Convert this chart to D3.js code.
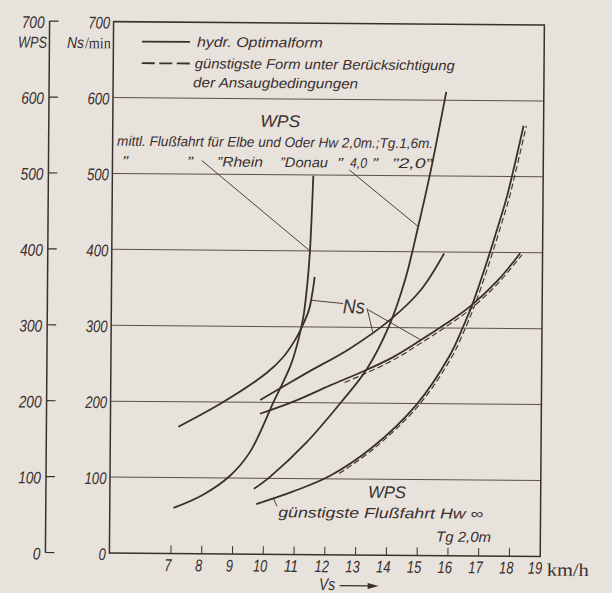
<!DOCTYPE html>
<html>
<head>
<meta charset="utf-8">
<script src="https://cdn.jsdelivr.net/npm/d3@7/dist/d3.min.js"></script>
<style>
  body { margin: 0; background: #e8e2dc; }
  svg { display: block; }
  text { font-family: "Liberation Sans Narrow", "Liberation Sans", Arial, sans-serif; font-style: italic; fill: #3a2f2c; }
  .upright { font-style: normal; font-family: "Liberation Serif", "DejaVu Serif", serif; }
</style>
</head>
<body>
<div id="chart"></div>
<script>
// ship speed Vs (km/h) on x, WPS / Ns (1/min) on y
var xTicks = [7, 8, 9, 10, 11, 12, 13, 14, 15, 16, 17, 18, 19];
var yTicks = [0, 100, 200, 300, 400, 500, 600, 700];

// WPS, mittl. Flussfahrt Elbe/Oder
var wpsElbeSpeed = [7.07, 8.0, 8.9, 9.55, 10.29, 10.85, 11.1, 11.25, 11.36, 11.44, 11.53];
var wpsElbe      = [60, 77, 103, 135, 200, 250, 285, 315, 355, 400, 499];
// Ns, Elbe/Oder
var nsElbeSpeed = [7.21, 8.66, 10.07, 10.6, 11.0, 11.2, 11.42, 11.53, 11.6];
var nsElbe      = [167, 200, 239, 260, 284, 300, 322, 345, 366];
// WPS, Rhein/Donau
var wpsRheinSpeed = [9.68, 10.2, 11.36, 12.49, 13.32, 14.04, 14.54, 14.95, 15.32, 15.83];
var wpsRhein      = [86, 102, 147, 201, 245, 303, 363, 433, 502, 611];
// Ns, Rhein/Donau
var nsRheinSpeed = [9.86, 11.31, 12.77, 14.06, 15.04, 15.8];
var nsRhein      = [203, 238, 272, 310, 349, 398];
// Ns, guenstigste Flussfahrt (hydr. Optimalform)
var nsBestSpeed = [9.86, 10.98, 12.13, 13.21, 14.17, 15.04, 15.86, 16.67, 17.53, 18.27];
var nsBest      = [185, 202, 223, 242, 261, 283, 305, 329, 362, 399];
// Ns, guenstigste Form unter Beruecksichtigung der Ansaugbedingungen
var nsBestDashSpeed = [12.6, 13.21, 14.17, 15.04, 15.86, 16.67, 17.53, 18.33];
var nsBestDash      = [227, 238, 257, 279, 301, 325, 358, 397];
// WPS, guenstigste Flussfahrt (hydr. Optimalform)
var wpsBestSpeed = [9.76, 10.96, 12.15, 13.49, 14.93, 16.0, 16.46, 16.71, 17.15, 17.61, 17.83, 18.35];
var wpsBest      = [66, 83, 104, 141, 198, 263, 304, 329, 382, 443, 474, 567];
// WPS, guenstigste Form (Ansaugbedingungen)
var wpsBestDashSpeed = [12.45, 13.56, 15.0, 16.08, 16.54, 16.79, 17.23, 17.69, 17.91, 18.44];
var wpsBestDash      = [107, 140, 197, 262, 303, 328, 381, 442, 473, 567];

// leader lines of the labels, in data units [speed, value]
var leaderElbe = [[7.9, 518], [11.44, 400]];
var leaderRhein = [[12.7, 507], [14.96, 433]];
var leaderNs = [
  [[12.53, 331], [11.5, 335]],
  [[13.31, 325], [13.5, 294]],
  [[13.35, 323], [15.06, 284]]
];
var leaderBest = [[10.44, 63], [10.31, 74]];

var ink = '#3a2f2c';
var width = 612, height = 593;

var svg = d3.select('#chart').append('svg')
  .attr('width', width)
  .attr('height', height);

svg.append('rect').attr('width', width).attr('height', height).attr('fill', '#e8e2dc');

// the scan is turned a little
var g = svg.append('g').attr('transform', 'rotate(0.45 326 288)');

var x = d3.scaleLinear().domain([5, 19]).range([111.5, 542.3]);
var y = d3.scaleLinear().domain([0, 700]).range([554.7, 23.3]);
var wpsAxisX = 47.5;

// grid
g.selectAll('line.grid').data(yTicks.filter(function(d) { return d > 0 && d < 700; }))
  .enter().append('line')
  .attr('class', 'grid')
  .attr('x1', x(5)).attr('x2', x(19))
  .attr('y1', function(d) { return y(d); })
  .attr('y2', function(d) { return y(d); })
  .attr('stroke', '#5e4f4a').attr('stroke-width', 1);

// frame
g.append('rect')
  .attr('x', x(5)).attr('y', y(700))
  .attr('width', x(19) - x(5)).attr('height', y(0) - y(700))
  .attr('fill', 'none').attr('stroke', ink).attr('stroke-width', 1.5);

// x ticks
g.selectAll('line.xtick').data(xTicks.filter(function(d) { return d < 19; }))
  .enter().append('line')
  .attr('class', 'xtick')
  .attr('x1', function(d) { return x(d); }).attr('x2', function(d) { return x(d); })
  .attr('y1', y(0)).attr('y2', y(0) - 8)
  .attr('stroke', ink).attr('stroke-width', 1);

g.selectAll('text.xlab').data(xTicks)
  .enter().append('text')
  .attr('class', 'xlab')
  .attr('x', function(d) { return x(d) - (d === 19 ? 5 : 3); })
  .attr('y', y(0) + 17.5)
  .attr('text-anchor', 'middle')
  .attr('font-size', 17)
  .attr('textLength', function(d) { return String(d).length * 7.2; })
  .attr('lengthAdjust', 'spacingAndGlyphs')
  .text(function(d) { return d; });

// Ns axis labels
g.selectAll('text.nslab').data(yTicks)
  .enter().append('text')
  .attr('class', 'nslab')
  .attr('x', x(5) - 3.5)
  .attr('y', function(d) { return y(d) + 7; })
  .attr('text-anchor', 'end')
  .attr('font-size', 17)
  .attr('textLength', function(d) { return String(d).length * 7.3; })
  .attr('lengthAdjust', 'spacingAndGlyphs')
  .text(function(d) { return d; });

// WPS axis on the far left
g.append('line')
  .attr('x1', wpsAxisX).attr('x2', wpsAxisX)
  .attr('y1', y(700)).attr('y2', y(0))
  .attr('stroke', ink).attr('stroke-width', 1.5);

g.selectAll('line.wtick').data(yTicks)
  .enter().append('line')
  .attr('class', 'wtick')
  .attr('x1', wpsAxisX).attr('x2', wpsAxisX + 9)
  .attr('y1', function(d) { return y(d); })
  .attr('y2', function(d) { return y(d); })
  .attr('stroke', ink).attr('stroke-width', 1.2);

g.selectAll('text.wlab').data(yTicks)
  .enter().append('text')
  .attr('class', 'wlab')
  .attr('x', wpsAxisX - 5)
  .attr('y', function(d) { return y(d) + 7; })
  .attr('text-anchor', 'end')
  .attr('font-size', 17)
  .attr('textLength', function(d) { return String(d).length * 7.6; })
  .attr('lengthAdjust', 'spacingAndGlyphs')
  .text(function(d) { return d; });

g.append('text').attr('x', 16).attr('y', 50)
  .attr('font-size', 16).attr('textLength', 29).attr('lengthAdjust', 'spacingAndGlyphs')
  .text('WPS');

g.append('text').attr('x', 65).attr('y', 50).attr('font-size', 16)
  .attr('textLength', 17).attr('lengthAdjust', 'spacingAndGlyphs')
  .text('Ns');
g.append('text').attr('class', 'upright').attr('x', 83).attr('y', 50).attr('font-size', 16)
  .attr('textLength', 26).attr('lengthAdjust', 'spacingAndGlyphs')
  .text('/min');

// curves
var line = d3.line()
  .x(function(d) { return x(d[0]); })
  .y(function(d) { return y(d[1]); })
  .curve(d3.curveCatmullRom.alpha(0.5));

function pts(speeds, vals) {
  return speeds.map(function(s, i) { return [s, vals[i]]; });
}

var solid = [
  pts(wpsElbeSpeed, wpsElbe),
  pts(nsElbeSpeed, nsElbe),
  pts(wpsRheinSpeed, wpsRhein),
  pts(nsRheinSpeed, nsRhein),
  pts(nsBestSpeed, nsBest),
  pts(wpsBestSpeed, wpsBest)
];
var dashed = [
  pts(nsBestDashSpeed, nsBestDash),
  pts(wpsBestDashSpeed, wpsBestDash)
];

g.selectAll('path.solid').data(solid)
  .enter().append('path')
  .attr('class', 'solid')
  .attr('d', line)
  .attr('fill', 'none').attr('stroke', ink).attr('stroke-width', 1.8);

g.selectAll('path.dashed').data(dashed)
  .enter().append('path')
  .attr('class', 'dashed')
  .attr('d', line)
  .attr('fill', 'none').attr('stroke', ink).attr('stroke-width', 1.1)
  .attr('stroke-dasharray', '6,3');

// leader lines
var leaders = [leaderElbe, leaderRhein, leaderBest].concat(leaderNs);
g.selectAll('line.leader').data(leaders)
  .enter().append('line')
  .attr('class', 'leader')
  .attr('x1', function(d) { return x(d[0][0]); })
  .attr('y1', function(d) { return y(d[0][1]); })
  .attr('x2', function(d) { return x(d[1][0]); })
  .attr('y2', function(d) { return y(d[1][1]); })
  .attr('stroke', ink).attr('stroke-width', 0.9);

// legend
g.append('line').attr('x1', 140).attr('x2', 188).attr('y1', 43).attr('y2', 43)
  .attr('stroke', ink).attr('stroke-width', 1.8);
g.append('line').attr('x1', 140).attr('x2', 188).attr('y1', 64.6).attr('y2', 64.6)
  .attr('stroke', ink).attr('stroke-width', 1.8).attr('stroke-dasharray', '13,4.5');

function label(tx, ty, size, len, str) {
  return g.append('text')
    .attr('x', tx).attr('y', ty)
    .attr('font-size', size)
    .attr('textLength', len)
    .attr('lengthAdjust', 'spacingAndGlyphs')
    .text(str);
}

label(195, 47.7, 14, 126, 'hydr. Optimalform');
label(193, 69.3, 14, 260, 'günstigste Form unter Berücksichtigung');
label(191.5, 88.3, 14, 165, 'der Ansaugbedingungen');

// upper annotation
label(259, 127.4, 17, 40, 'WPS');
label(116, 147.4, 14, 316, 'mittl. Flußfahrt für Elbe und Oder Hw 2,0m.;Tg.1,6m.');
label(121, 167.4, 14, 6, '\u201d');
label(186, 167.4, 14, 6, '\u201d');
label(216, 167.4, 14, 46, '\u201dRhein');
label(279, 167.4, 14, 48, '\u201dDonau');
label(336, 167.4, 14, 6, '\u201d');
label(349, 167.4, 14, 17, '4,0');
label(371, 167.4, 14, 6, '\u201d');
label(391, 167.4, 14, 40, '\u201d2,0\u201d');

label(343, 313, 20, 22, 'Ns');

// lower annotation
label(369.6, 497.5, 17, 38, 'WPS');
label(280, 517.6, 14.5, 205, 'günstigste Flußfahrt Hw \u221e');
label(438, 540.7, 14.5, 55, 'Tg 2,0m');

// axis title and unit
g.append('text').attr('class', 'upright')
  .attr('x', 549).attr('y', 574).attr('font-size', 18)
  .attr('textLength', 42).attr('lengthAdjust', 'spacingAndGlyphs')
  .text('km/h');

label(321.4, 590, 17, 16, 'Vs');
g.append('line').attr('x1', 342).attr('x2', 372).attr('y1', 585.6).attr('y2', 585.6)
  .attr('stroke', ink).attr('stroke-width', 1.3);
g.append('path')
  .attr('d', 'M370,582.6 L381,585.6 L370,588.6 Z')
  .attr('fill', ink);
</script>
</body>
</html>
